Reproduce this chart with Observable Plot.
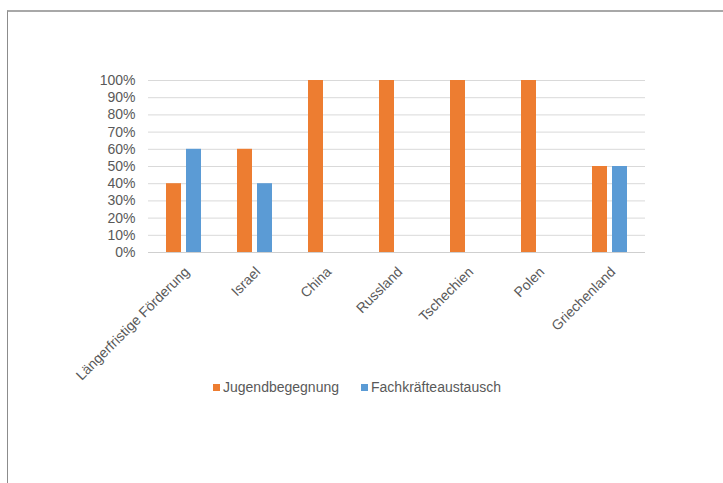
<!DOCTYPE html>
<html>
<head>
<meta charset="utf-8">
<script src="https://cdn.jsdelivr.net/npm/d3@7"></script>
<script src="https://cdn.jsdelivr.net/npm/@observablehq/plot@0.6"></script>
<style>
  html, body { margin: 0; padding: 0; background: #fff; }
  body { width: 723px; height: 483px; position: relative; overflow: hidden; font-family: "Liberation Sans", Arial, sans-serif; }
  #frame { position: absolute; left: 7px; top: 10px; width: 740px; height: 500px; border-top: 2px solid #a8a8a8; border-left: 1px solid #8c8c8c; box-sizing: border-box; }
  #chart { position: absolute; left: 0; top: 0; }
  #legend { position: absolute; left: 213px; top: 379px; display: flex; align-items: center; font-size: 14px; color: #595959; white-space: nowrap; }
  #legend .sw { display: inline-block; width: 7px; height: 7px; margin-right: 3px; }
  #legend .item { display: flex; align-items: center; margin-right: 22px; }
</style>
</head>
<body>
<div id="frame"></div>
<div id="chart"></div>
<div id="legend"></div>
<script>
const categories = ["Längerfristige Förderung", "Israel", "China", "Russland", "Tschechien", "Polen", "Griechenland"];
const seriesNames = ["Jugendbegegnung", "Fachkräfteaustausch"];
const jugendbegegnung = [0.40, 0.60, 1.00, 1.00, 1.00, 1.00, 0.50];
const fachkraefteaustausch = [0.60, 0.40, 0, 0, 0, 0, 0.50];
const colors = ["#ED7D31", "#5B9BD5"];
const yTicks = [0, 0.1, 0.2, 0.3, 0.4, 0.5, 0.6, 0.7, 0.8, 0.9, 1.0];

const data = [];
categories.forEach((c, i) => {
  data.push({cat: c, series: seriesNames[0], value: jugendbegegnung[i]});
  data.push({cat: c, series: seriesNames[1], value: fachkraefteaustausch[i]});
});

const plot = Plot.plot({
  width: 723,
  height: 420,
  marginLeft: 148,
  marginRight: 78,
  marginTop: 80,
  marginBottom: 168,
  style: {fontFamily: "Liberation Sans, Arial, sans-serif", fontSize: "14px", color: "#595959", background: "transparent"},
  fx: {domain: categories, padding: 0, label: null},
  x: {domain: seriesNames, paddingInner: 0.25, paddingOuter: 0.85, axis: null},
  y: {domain: [0, 1], axis: null},
  color: {domain: seriesNames, range: colors},
  marks: [
    Plot.gridY(yTicks, {stroke: "#d9d9d9", strokeOpacity: 1, strokeWidth: 1}),
    Plot.ruleY([0], {stroke: "#cfcfcf", strokeWidth: 1}),
    Plot.barY(data, {fx: "cat", x: "series", y: "value", fill: "series", inset: 0}),
    Plot.axisY(yTicks, {tickSize: 0, tickPadding: 13, tickFormat: d => Math.round(d * 100) + "%", label: null, fill: "#595959", fontSize: 14}),
    Plot.axisFx({anchor: "bottom", tickSize: 0, tickPadding: 17, dx: 3, tickRotate: -45, label: null, fill: "#595959", fontSize: 14})
  ]
});
document.getElementById("chart").appendChild(plot);

const legend = document.getElementById("legend");
seriesNames.forEach((s, i) => {
  const item = document.createElement("span");
  item.className = "item";
  const sw = document.createElement("span");
  sw.className = "sw";
  sw.style.background = colors[i];
  item.appendChild(sw);
  item.appendChild(document.createTextNode(s));
  legend.appendChild(item);
});
</script>
</body>
</html>
